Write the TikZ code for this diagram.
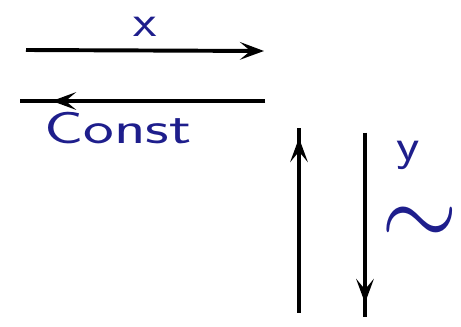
\RequirePackage{fix-cm}
\documentclass[tikz,border=0pt]{standalone}
\usetikzlibrary{arrows.meta,positioning}
\definecolor{ink}{RGB}{30,30,140}

\begin{document}
\begin{tikzpicture}[
  x=0.025cm,y=-0.025cm,
  line/.style={line width=2.8pt,black},
  arc/.style={-{Stealth[length=6mm,width=4.4mm,inset=2.6mm]},line width=2.8pt,black},
  lab/.style={ink,font=\fontsize{32}{36}\selectfont\sffamily,inner sep=0pt},
]
\useasboundingbox (0,0) rectangle (461,327);
% top pair
\coordinate (xs) at (26,50); \coordinate (xe) at (264,51);
\draw[arc] (xs) -- (xe);
\node[lab,xscale=1.2] (xl) at (145,27) {x};
\coordinate (cs) at (265,101); \coordinate (ce) at (20,101); \coordinate (ct) at (52,101);
\draw[line] (cs) -- (ce); \draw[arc] (cs) -- (ct);
\node[lab,xscale=1.45] (cl) at (118,128) {Const};
% vertical pair
\coordinate (us) at (299,313); \coordinate (ue) at (299,128); \coordinate (ut) at (299,138);
\draw[line] (us) -- (ue); \draw[arc] (us) -- (ut);
\coordinate (ds) at (365,133); \coordinate (de) at (365,317); \coordinate (dt) at (365,303);
\draw[line] (ds) -- (de); \draw[arc] (ds) -- (dt);
\node[lab,xscale=1.2] (yl) at (408,155) {y};
\node[lab,font=\fontsize{56}{60}\selectfont,text height=0.4em,text depth=-0.1em,
  xscale=1.25,yscale=1.4] (wl) at (420,244) {$\sim$};
\end{tikzpicture}
\end{document}
